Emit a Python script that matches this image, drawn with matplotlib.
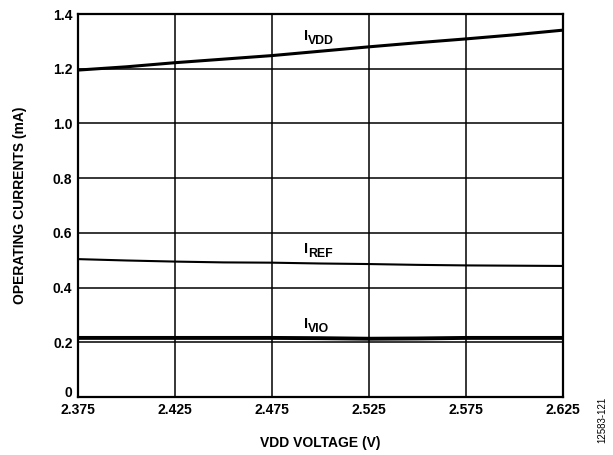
import matplotlib.pyplot as plt
import matplotlib.transforms as mtransforms
import numpy as np

plt.rcParams['font.family'] = ['Liberation Sans', 'DejaVu Sans']

# supply voltage (V)
vdd = [2.375, 2.400, 2.425, 2.450, 2.475, 2.500, 2.525, 2.550, 2.575, 2.600, 2.625]
# operating currents (mA)
i_vdd = [1.195, 1.207, 1.222, 1.235, 1.248, 1.264, 1.280, 1.295, 1.309, 1.324, 1.341]
i_ref = [0.504, 0.499, 0.495, 0.492, 0.491, 0.488, 0.486, 0.483, 0.481, 0.480, 0.479]
i_vio = [0.216, 0.216, 0.216, 0.216, 0.216, 0.215, 0.213, 0.214, 0.216, 0.216, 0.216]

x_ticks = [2.375, 2.425, 2.475, 2.525, 2.575, 2.625]
y_ticks = [0, 0.2, 0.4, 0.6, 0.8, 1.0, 1.2, 1.4]
y_labels = ["0", "0.2", "0.4", "0.6", "0.8", "1.0", "1.2", "1.4"]

fig = plt.figure(figsize=(6.13, 4.55), dpi=100)
ax = fig.add_axes([78 / 613, 1 - 397 / 455, 485 / 613, 383 / 455])

ax.plot(vdd, i_vdd, color="black", linewidth=2.2)
ax.plot(vdd, i_ref, color="black", linewidth=1.5)
ax.plot(vdd, i_vio, color="black", linewidth=2.8)

ax.set_xlim(2.375, 2.625)
ax.set_ylim(0, 1.4)
ax.set_xticks(x_ticks)
ax.set_xticklabels([f"{v:.3f}" for v in x_ticks])
ax.set_yticks(y_ticks)
ax.set_yticklabels(y_labels)

ax.grid(True, color="black", linewidth=1.1)
ax.set_axisbelow(True)
for spine in ax.spines.values():
    spine.set_linewidth(1.6)
ax.tick_params(axis="both", length=0, labelsize=10, pad=4)
for lbl in ax.get_xticklabels() + ax.get_yticklabels():
    lbl.set_fontweight("bold")
# lift the "0" a little so it clears the first x label
zero = ax.get_yticklabels()[0]
zero.set_transform(zero.get_transform() +
                   mtransforms.ScaledTranslation(0, 4 / 72, fig.dpi_scale_trans))

ax.set_xlabel("VDD VOLTAGE (V)", fontsize=10, fontweight="bold", labelpad=14)
ax.set_ylabel("OPERATING CURRENTS (mA)", fontsize=10, fontweight="bold", labelpad=19)


def curve_label(x, y, sub):
    # "I" followed by a bold subscript, drawn as two texts
    ax.annotate("I", (x, y), xytext=(-9, 1), textcoords="offset points",
                fontsize=10.5, fontweight="bold", ha="right", va="center")
    ax.annotate(sub, (x, y), xytext=(-9, -2.5), textcoords="offset points",
                fontsize=8.8, fontweight="bold", ha="left", va="center")


curve_label(2.5, 1.315, "VDD")
curve_label(2.5, 0.535, "REF")
curve_label(2.5, 0.26, "VIO")

fig.text(602 / 613, 1 - 420 / 455, "12583-121", rotation=90, fontsize=7,
         ha="center", va="center")

fig.savefig("out.png", dpi=100)
